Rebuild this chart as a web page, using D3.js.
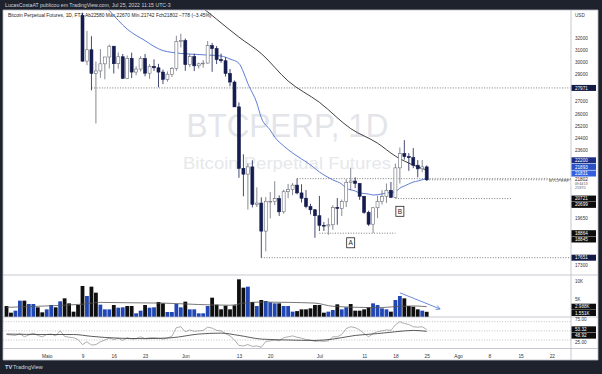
<!DOCTYPE html>
<html><head><meta charset="utf-8">
<script src="https://cdn.jsdelivr.net/npm/d3@7"></script>
<style>
html,body{margin:0;padding:0;background:#1e222d;}
svg{display:block;font-family:"Liberation Sans",Arial,sans-serif;}
</style></head><body>
<svg id="c" width="602" height="374"></svg>
<script>
// ---------------- DATA ----------------
const candleStart = "2022-05-09";
const opens  = [34060,30080,31020,29100,29290,29860,30420,31320,29870,30440,28710,30310,29200,29440,30290,29110,29650,29540,29200,28630,29030,29470,31730,31800,29800,30450,29700,29860,29920,31370,31120,30200,30110,29090,28420,26570,22490,22140,22580,20400,20470,18970,20570,20570,20720,19990,21110,21240,21490,21040,20740,20280,20100,19780,19270,19240,19300,20230,20180,20550,21640,21730,21590,20850,19960,19330,20210,20570,20830,21190,20790,22520,23410,23220,23150,22680,22460,22580];
const highs  = [34300,32650,32180,30050,31080,30340,31460,31330,30790,30670,30540,30780,29660,30490,30670,29830,30220,29860,29400,29250,29600,32220,32400,31980,30690,30690,29960,30170,31760,31590,31330,30700,30390,29440,28540,26890,23360,22800,22990,21360,20790,20810,21090,21720,20900,21230,21560,21610,21870,21540,21200,20430,20140,20870,19440,19650,20350,20750,20670,21840,22530,21950,21600,20870,20050,20250,20890,21200,21590,21680,22780,23800,24280,23440,23760,23000,23010,22670];
const lows   = [30030,29740,27790,25400,28750,28630,29480,29090,29460,28650,28670,28730,28950,29250,28870,28670,29290,28020,28260,28450,28810,29300,31210,29300,29590,29280,29480,29550,29880,29220,29840,29940,28850,28100,26560,21920,20850,20110,20230,20250,17650,17960,19640,20350,19770,19890,20740,20910,20960,20500,20180,19850,18630,18970,18980,18780,19040,19300,19760,20250,21190,21320,20650,19880,19240,18870,19650,20390,20480,20760,20760,21580,23030,22340,22500,21950,22260,21742];
const closes = [30080,31020,29100,29290,29860,30420,31320,29870,30440,28710,30310,29200,29440,30290,29110,29650,29540,29200,28630,29030,29470,31730,31800,29800,30450,29700,29860,29920,31370,31120,30200,30110,29090,28420,26570,22490,22140,22580,20400,20470,18970,20570,20570,20720,19990,21110,21240,21490,21040,20740,20280,20100,19780,19270,19240,19300,20230,20180,20550,21640,21730,21590,20850,19960,19330,20210,20570,20830,21190,20790,22520,23410,23220,23150,22680,22460,22580,21802];

const volStart = "2022-04-22";
const volumes = [3.18,1.30,1.87,4.69,4.69,3.75,3.75,2.81,1.40,2.24,3.46,2.81,4.50,5.34,3.93,1.59,3.46,
 8.82,6.0,8.63,6.94,3.56,2.24,2.24,3.46,2.71,2.81,3.18,3.18,1.12,1.87,3.46,2.71,2.81,4.31,3.93,1.49,1.49,3.75,2.81,4.41,2.24,2.24,1.12,1.12,3.18,5.53,3.56,2.24,3.28,2.24,3.37,10.7,
 8.35,8.63,4.31,3.18,4.87,4.59,4.22,3.93,3.93,3.18,3.18,1.59,1.75,2.24,2.24,2.52,3.46,3.46,1.30,1.59,2.06,3.65,2.24,2.81,3.75,1.87,1.87,2.24,2.81,3.93,3.46,2.52,2.24,1.59,4.87,6.0,5.34,3.18,2.99,2.24,1.87,1.55];
const volDir = "kkbbkbbkkbbkbkkkk"+"kbkkbbbkbbkkbbkbbkkbbbbkbbbbbkkkkkkk"+"kbkbkbbbkbbbkkkkkkkbbkbbkkkkkbbbbkbbkkkkbk";
const volMADates = ["2022-04-22","2022-04-29","2022-05-05","2022-05-09","2022-05-13","2022-05-19","2022-05-27","2022-06-04","2022-06-11","2022-06-14","2022-06-18","2022-06-24","2022-06-30","2022-07-04","2022-07-10","2022-07-14","2022-07-18","2022-07-22","2022-07-25"];
const volMAValues = [2.8,3.1,3.4,3.7,4.2,4.1,4.0,3.6,3.4,4.0,4.3,4.2,4.0,3.1,2.8,2.7,3.0,3.2,2.99];

const rsiValues = [42,41,40,44,37,41,45,40,37,42,43,39,50,38,36,35,31,
 20,26,19,20,26,30,34,31,34,29,35,32,33,37,33,35,35,34,32,34,38,57,59,48,52,49,50,51,58,56,51,50,44,39,30,18,
 17,20,16,17,14,27,28,30,28,35,37,39,36,34,31,30,27,28,27,28,37,37,42,55,59,57,52,44,37,44,48,50,52,51,63,70,66,64,59,58,59,53];
const rsiMADates = ["2022-04-22","2022-05-01","2022-05-07","2022-05-11","2022-05-17","2022-05-23","2022-05-29","2022-06-04","2022-06-09","2022-06-13","2022-06-18","2022-06-24","2022-06-30","2022-07-04","2022-07-09","2022-07-14","2022-07-18","2022-07-22","2022-07-25"];
const rsiMAValues = [43,42,42,38,34,33,35,43,45,40,32,30,29,32,40,44,48,51,49];

const blueMADates = ["2022-05-13","2022-05-15","2022-05-17","2022-05-19","2022-05-21","2022-05-23","2022-05-25","2022-05-27","2022-05-29","2022-06-02","2022-06-06","2022-06-09","2022-06-11","2022-06-13","2022-06-14","2022-06-15","2022-06-17","2022-06-18","2022-06-20","2022-06-21","2022-06-23","2022-06-25","2022-06-27","2022-06-29","2022-07-01","2022-07-04","2022-07-06","2022-07-07","2022-07-09","2022-07-10","2022-07-12","2022-07-13","2022-07-15","2022-07-16","2022-07-18","2022-07-19","2022-07-20","2022-07-21","2022-07-22","2022-07-23","2022-07-25"];
const blueMAValues = [35500,34500,33600,32800,32250,31800,31300,30950,30800,30660,30580,30500,30250,29900,29200,28300,26850,25800,24950,24480,23900,23450,23070,22700,22270,21800,21550,21320,21150,21040,20980,20920,20980,21040,21100,21320,21440,21560,21670,21730,21880];
const blackMADates = ["2022-06-02","2022-06-05","2022-06-08","2022-06-13","2022-06-18","2022-06-24","2022-07-01","2022-07-08","2022-07-14","2022-07-18","2022-07-22","2022-07-25"];
const blackMAValues = [35500,34700,33700,32100,30700,28500,26900,25050,24080,23250,22690,22390];

const priceTicks = [32000,31000,30000,29000,27000,26000,25200,24400,23600,19650,17300];
const timeTickDates = ["2022-05-01","2022-05-09","2022-05-16","2022-05-23","2022-06-01","2022-06-13","2022-06-20","2022-07-01","2022-07-11","2022-07-18","2022-07-25","2022-08-01","2022-08-08","2022-08-15","2022-08-22"];
const timeTickLabels = ["Maio","9","16","23","Jun","13","20","Jul","11","18","25","Ago","8","15","22"];

// horizontal levels drawn by the author
const levelPrices = [27971,21870,20721,18864,17651];
const levelFrom   = ["2022-05-11","2022-06-26","2022-07-18","2022-07-01","2022-06-18"];
const levelTo     = [null,null,"2022-08-13","2022-07-18",null];

const annTexts = ["A","B"];
const annDates = ["2022-07-08","2022-07-19"];
const annPrices = [18380,20017];

const arrowDates = ["2022-07-19","2022-07-28"];
const arrowVols = [6.9,2.35];

// axis badges: value, background
const badgeValues = [27971,22200,21893,21831,20721,20699,18864,18845,17651];
const badgeColors = ["#131a45","#1c2f86","#2a4fc4","#3460e0","#0d0d0d","#0d0d0d","#0d0d0d","#0d0d0d","#131a45"];
const lastPrice = 21802;
const countdown = "09:44:13";
const volBadgeValues = [2.988,1.5518];
const volBadgeTexts = ["2.988K","1.551K"];
const rsiBadgeValues = [53.32,48.92];
const volTicks = [10,5];
const rsiTicks = [75,25];

// ---------------- LAYOUT ----------------
const W=602,H=374, L=3, R=571, AX=598;
const P0=10, P1=275, V1=317, S1=348.5, B0=360;
const parse = d3.utcParse("%Y-%m-%d");
const svg = d3.select("#c");
const day = 864e5;
const d0 = parse(candleStart);
const x = d3.scaleUtc().domain([d0, new Date(+d0+77*day)]).range([82.5, 82.5+77*4.47]);
const y = d3.scaleLog().domain([17651,32000]).range([257.7,38.3]);
const yv = d3.scaleLinear().domain([0,10]).range([317.3,281.8]);
const yr = d3.scaleLinear().domain([30,70]).range([340,321.7]);

svg.append("rect").attr("width",W).attr("height",H).attr("fill","#1e222d");
svg.append("rect").attr("x",L).attr("y",P0).attr("width",AX-L).attr("height",B0-P0).attr("fill","#fff");

svg.append("text").attr("x",5).attr("y",6.8).attr("font-size",5.2).attr("fill","#d1d4dc")
  .text("LucasCostaAT publicou em TradingView.com, Jul 25, 2022 11:15 UTC-3");

const defs = svg.append("defs");
defs.append("clipPath").attr("id","cp").append("rect").attr("x",L).attr("y",P0).attr("width",R-L).attr("height",P1-P0);
defs.append("clipPath").attr("id","cv").append("rect").attr("x",L).attr("y",P1).attr("width",R-L).attr("height",V1-P1);
defs.append("clipPath").attr("id","cr").append("rect").attr("x",L).attr("y",V1).attr("width",R-L).attr("height",S1-V1);

// watermark
svg.append("text").attr("x",287.5).attr("y",136.5).attr("text-anchor","middle").attr("font-size",34)
  .attr("fill","#e3e5ea").attr("textLength",202).attr("lengthAdjust","spacingAndGlyphs").text("BTCPERP, 1D");
svg.append("text").attr("x",287).attr("y",168.5).attr("text-anchor","middle").attr("font-size",17)
  .attr("fill","#e6e8ec").attr("textLength",208).attr("lengthAdjust","spacingAndGlyphs").text("Bitcoin Perpetual Futures");

// legend
svg.append("text").attr("x",8).attr("y",17.3).attr("font-size",4.9).attr("fill","#222")
  .text("Bitcoin Perpetual Futures, 1D, FTX  Ab22580  Máx.22670  Mín.21742  Fch21802  −778 (−3.45%)");

// ---------- price pane ----------
const gp = svg.append("g").attr("clip-path","url(#cp)");
const dash = "1,1.6";
levelPrices.forEach((p,i)=>{
  const x1 = levelTo[i] ? x(parse(levelTo[i])) : R;
  gp.append("line").attr("x1",x(parse(levelFrom[i]))).attr("x2",x1).attr("y1",y(p)).attr("y2",y(p))
    .attr("stroke","#444").attr("stroke-width",0.7).attr("stroke-dasharray",dash);
});
gp.append("line").attr("x1",x(new Date(+d0+77*day))).attr("x2",R).attr("y1",y(lastPrice)).attr("y2",y(lastPrice))
  .attr("stroke","#333").attr("stroke-width",0.6).attr("stroke-dasharray","1,1.6");

const mline = d3.line().x(d=>x(d[0])).y(d=>y(d[1])).curve(d3.curveMonotoneX);
gp.append("path").attr("d",mline(blackMADates.map((d,i)=>[parse(d),blackMAValues[i]])))
  .attr("fill","none").attr("stroke","#2a2a2a").attr("stroke-width",0.9);
gp.append("path").attr("d",mline(blueMADates.map((d,i)=>[parse(d),blueMAValues[i]])))
  .attr("fill","none").attr("stroke","#4d6fd0").attr("stroke-width",0.9);

const candles = opens.map((o,i)=>({d:new Date(+d0+i*day),o,h:highs[i],l:lows[i],c:closes[i]}));
const up="#ffffff", down="#141c50";
const cg = gp.selectAll("g.c").data(candles).join("g");
cg.append("line").attr("x1",d=>x(d.d)).attr("x2",d=>x(d.d)).attr("y1",d=>y(d.h)).attr("y2",d=>y(d.l))
  .attr("stroke",d=>d.c>=d.o?"#6a6d78":down).attr("stroke-width",0.8);
cg.append("rect").attr("x",d=>x(d.d)-1.5).attr("width",3)
  .attr("y",d=>y(Math.max(d.o,d.c))).attr("height",d=>Math.max(0.8,Math.abs(y(d.o)-y(d.c))))
  .attr("fill",d=>d.c>=d.o?up:down).attr("stroke",d=>d.c>=d.o?"#6a6d78":down).attr("stroke-width",0.6);

annTexts.forEach((t,i)=>{
  const cx=x(parse(annDates[i])), cy=y(annPrices[i]);
  gp.append("rect").attr("x",cx-4).attr("y",cy-5).attr("width",8).attr("height",10)
    .attr("fill","#fff").attr("stroke","#222").attr("stroke-width",0.8);
  gp.append("text").attr("x",cx).attr("y",cy+2.3).attr("text-anchor","middle").attr("font-size",6.5).attr("fill","#222").text(t);
});
svg.append("text").attr("x",549).attr("y",181.5).attr("font-size",4.4).attr("fill","#555").text("BTCPERP");

// ---------- volume pane ----------
const gv = svg.append("g").attr("clip-path","url(#cv)");
const v0 = parse(volStart);
gv.selectAll("rect.v").data(volumes).join("rect")
  .attr("x",(v,i)=>x(new Date(+v0+i*day))-1.9).attr("width",3.8)
  .attr("y",v=>yv(v)).attr("height",v=>yv(0)-yv(v))
  .attr("fill",(v,i)=>volDir[i]==="b"?"#2147b4":"#0f0f0f");
gv.append("path").attr("d",d3.line().x(d=>x(d[0])).y(d=>yv(d[1])).curve(d3.curveMonotoneX)(volMADates.map((d,i)=>[parse(d),volMAValues[i]])))
  .attr("fill","none").attr("stroke","#555").attr("stroke-width",0.8);
{
  const xa=x(parse(arrowDates[0])), ya=yv(arrowVols[0]), xb=x(parse(arrowDates[1])), yb=yv(arrowVols[1]);
  gv.append("line").attr("x1",xa).attr("y1",ya).attr("x2",xb).attr("y2",yb).attr("stroke","#5b7fdc").attr("stroke-width",0.9);
  const ang=Math.atan2(yb-ya,xb-xa), s=4.5;
  const p1=[xb-s*Math.cos(ang-0.5), yb-s*Math.sin(ang-0.5)], p2=[xb-s*Math.cos(ang+0.5), yb-s*Math.sin(ang+0.5)];
  gv.append("path").attr("d",`M${p1}L${xb},${yb}L${p2}`).attr("fill","none").attr("stroke","#5b7fdc").attr("stroke-width",0.9);
}

// ---------- RSI pane ----------
const gr = svg.append("g").attr("clip-path","url(#cr)");
[70,50,30].forEach(v=>gr.append("line").attr("x1",L).attr("x2",R).attr("y1",yr(v)).attr("y2",yr(v))
  .attr("stroke","#999").attr("stroke-width",0.6).attr("stroke-dasharray","1,1.6"));
gr.append("path").attr("d",d3.line().x((v,i)=>x(new Date(+v0+i*day))).y(v=>yr(v))(rsiValues))
  .attr("fill","none").attr("stroke","#8a8a8a").attr("stroke-width",0.7);
gr.append("path").attr("d",d3.line().x(d=>x(d[0])).y(d=>yr(d[1])).curve(d3.curveMonotoneX)(rsiMADates.map((d,i)=>[parse(d),rsiMAValues[i]])))
  .attr("fill","none").attr("stroke","#333").attr("stroke-width",0.8);

// ---------- frame lines ----------
const fl = (x1,y1,x2,y2)=>svg.append("line").attr("x1",x1).attr("y1",y1).attr("x2",x2).attr("y2",y2).attr("stroke","#b8bbc4").attr("stroke-width",0.8);
fl(L,P1,AX,P1); fl(L,V1,AX,V1); fl(L,S1,AX,S1); fl(R,P0,R,B0);
fl(L,P0,AX,P0); fl(L,B0,AX,B0); fl(L,P0,L,B0); fl(AX,P0,AX,B0);

// ---------- axes ----------
const ax = svg.append("g").attr("font-size",4.6).attr("fill","#333");
ax.append("text").attr("x",575).attr("y",17).text("USD");
priceTicks.forEach(p=>ax.append("text").attr("x",575).attr("y",y(p)+1.6).text(d3.format("d")(p)));
volTicks.forEach(v=>ax.append("text").attr("x",575).attr("y",yv(v)+1.6).text(v+"K"));
rsiTicks.forEach(v=>ax.append("text").attr("x",575).attr("y",yr(v)+1.6).text(v.toFixed(2)));

const xa = d3.axisBottom(x).tickValues(timeTickDates.map(parse)).tickFormat((d,i)=>timeTickLabels[i]).tickSize(0);
const gx = svg.append("g").attr("transform",`translate(0,${S1+3})`).call(xa);
gx.select(".domain").remove();
gx.selectAll("text").attr("font-size",4.8).attr("fill","#333").attr("font-family","Liberation Sans, Arial, sans-serif");

function badge(yc, txt, bg, fg){
  svg.append("rect").attr("x",R+0.5).attr("y",yc-3).attr("width",24.5).attr("height",6).attr("fill",bg);
  svg.append("text").attr("x",575).attr("y",yc+1.6).attr("font-size",4.6).attr("fill",fg).text(txt);
}
// last price badge with countdown
svg.append("rect").attr("x",R+0.5).attr("y",y(lastPrice)-3).attr("width",24.5).attr("height",8.5).attr("fill","#fff");
svg.append("text").attr("x",575).attr("y",y(lastPrice)+1.6).attr("font-size",4.6).attr("fill","#222").text(lastPrice);
svg.append("text").attr("x",575).attr("y",y(lastPrice)+4.9).attr("font-size",3.2).attr("fill","#444").text(countdown);
ax.append("text").attr("x",575).attr("y",y(lastPrice)+9.2).attr("font-size",3.8).attr("fill","#666").text(levelPrices[1]);

const order = badgeValues.map((v,i)=>i).sort((a,b)=>badgeValues[b]-badgeValues[a]);
const above = order.filter(i=>badgeValues[i]>lastPrice && y(badgeValues[i])>y(lastPrice)-20);
let cur=y(lastPrice)-3;
above.slice().reverse().forEach(i=>{ let yy=Math.min(y(badgeValues[i]), cur-3.3); badge(yy,badgeValues[i],badgeColors[i],"#fff"); cur=yy-3.3; });
let last=-1e9;
order.filter(i=>!above.includes(i)).forEach(i=>{
  let yy=y(badgeValues[i]); if(yy<last+6.3) yy=last+6.3; badge(yy,badgeValues[i],badgeColors[i],"#fff"); last=yy;
});
let vl=-1e9;
volBadgeValues.forEach((v,i)=>{ let yy=yv(v); if(yy<vl+6.3) yy=vl+6.3; badge(yy,volBadgeTexts[i],"#0d0d0d","#fff"); vl=yy; });
let rl=-1e9;
rsiBadgeValues.forEach(v=>{ let yy=yr(v); if(yy<rl+6.3) yy=rl+6.3; badge(yy,v.toFixed(2),"#0d0d0d","#fff"); rl=yy; });

// footer
svg.append("text").attr("x",5).attr("y",369).attr("font-size",5.6).attr("font-weight","bold").attr("fill","#d1d4dc").text("TV");
svg.append("text").attr("x",13).attr("y",369).attr("font-size",5.4).attr("fill","#d1d4dc").text("TradingView");
</script></body></html>
